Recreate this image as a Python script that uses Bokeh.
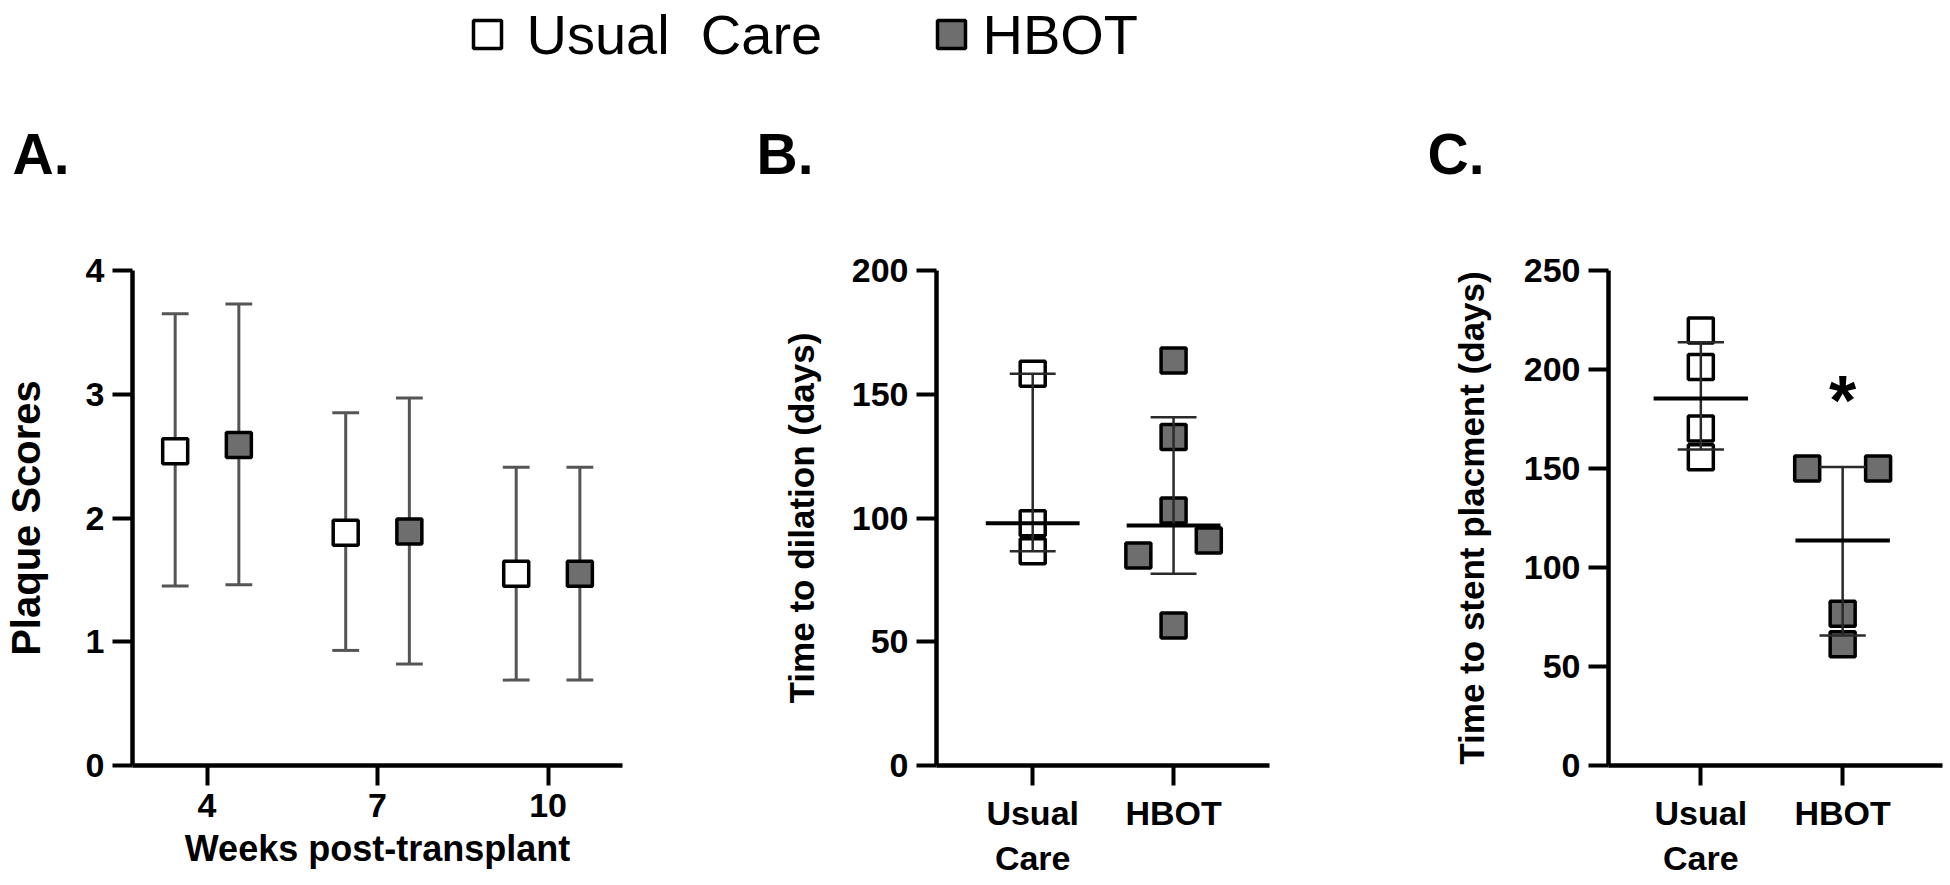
from bokeh.plotting import figure
from bokeh.layouts import row, column
from bokeh.models import Range1d, FixedTicker, ColumnDataSource
from bokeh.core.properties import value
from bokeh.embed import file_html
from bokeh.resources import INLINE

FONT = "Liberation Sans"

# ---------------- data ----------------
groups = ["Usual \u00a0Care", "HBOT"]
group_fill = ["white", "#6e6e6e"]
panel_titles = ["A.", "B.", "C."]

# Panel A: plaque scores (mean with error bars) per week
weeks = [4, 7, 10]
a_uc_mean = [2.54, 1.88, 1.55]
a_uc_upper = [3.65, 2.85, 2.41]
a_uc_lower = [1.45, 0.93, 0.69]
a_hbot_mean = [2.59, 1.89, 1.55]
a_hbot_upper = [3.73, 2.97, 2.41]
a_hbot_lower = [1.46, 0.82, 0.69]

# Panel B: time to dilation (days), individual points, median + IQR
b_tick_labels = ["Usual\nCare", "HBOT"]
b_uc = [158.3, 97.9, 86.6]
b_uc_jitter = [0, 0, 0]
b_hbot = [163.6, 132.7, 103.0, 84.8, 90.9, 56.6]
b_hbot_jitter = [0, 0, 0, -1, 1, 0]
b_median = [97.9, 97.0]
b_q1 = [86.6, 77.5]
b_q3 = [158.3, 140.7]

# Panel C: time to stent placement (days)
c_uc = [219.7, 201.2, 170.2, 155.7]
c_uc_jitter = [0, 0, 0, 0]
c_hbot = [150.0, 150.0, 76.7, 61.3]
c_hbot_jitter = [-1, 1, 0, 0]
c_median = [185.4, 113.6]
c_q1 = [159.6, 65.6]
c_q3 = [213.8, 150.7]
c_sig = ["", "*"]
c_sig_y = [None, 184]

# ---------------- helpers ----------------
MS = 25      # marker size
MLW = 3.5    # marker outline width
PANEL_H = 685


def style(p):
    p.xgrid.visible = False
    p.ygrid.visible = False
    p.outline_line_color = None
    p.background_fill_color = "white"
    p.border_fill_color = "white"
    for ax in p.axis:
        ax.axis_line_width = 4.5
        ax.axis_line_color = "black"
        ax.major_tick_line_width = 4
        ax.major_tick_line_color = "black"
        ax.major_tick_out = 20
        ax.major_tick_in = 0
        ax.minor_tick_line_color = None
        ax.major_label_text_font = FONT
        ax.major_label_text_font_style = "bold"
        ax.major_label_text_font_size = "34px"
        ax.major_label_text_color = "black"
        ax.major_label_standoff = 8
        ax.axis_label_text_font = FONT
        ax.axis_label_text_font_style = "bold"
        ax.axis_label_text_color = "black"


def panel(width, xr, yr, left, right):
    p = figure(width=width, height=PANEL_H, x_range=xr, y_range=yr,
               min_border_left=left, min_border_right=right,
               min_border_top=70, min_border_bottom=PANEL_H - 70 - 495,
               toolbar_location=None, output_backend="svg")
    style(p)
    return p


# ---------------- Panel A ----------------
pA = panel(740, Range1d(2.689, 11.31), Range1d(0, 4), 130, 118)
off = 0.56
cap = 0.236
series = [
    (a_uc_mean, a_uc_lower, a_uc_upper, -off, group_fill[0]),
    (a_hbot_mean, a_hbot_lower, a_hbot_upper, off, group_fill[1]),
]
for mean, lo, hi, dx, fill in series:
    xs = [w + dx for w in weeks]
    src = ColumnDataSource(dict(x=xs, m=mean, lo=lo, hi=hi,
                                xl=[x - cap for x in xs], xr=[x + cap for x in xs]))
    pA.segment(x0="x", y0="lo", x1="x", y1="hi", source=src, line_color="#555555", line_width=3)
    pA.segment(x0="xl", y0="hi", x1="xr", y1="hi", source=src, line_color="#555555", line_width=3)
    pA.segment(x0="xl", y0="lo", x1="xr", y1="lo", source=src, line_color="#555555", line_width=3)
    pA.scatter(x="x", y="m", source=src, marker="square", size=MS,
               fill_color=fill, line_color="black", line_width=MLW)
pA.xaxis.ticker = FixedTicker(ticks=weeks)
pA.yaxis.ticker = FixedTicker(ticks=[0, 1, 2, 3, 4])
pA.xaxis.axis_label = "Weeks post-transplant"
pA.xaxis.axis_label_text_font_size = "36px"
pA.xaxis.axis_label_standoff = 8
pA.yaxis.axis_label = "Plaque Scores"
pA.yaxis.axis_label_text_font_size = "40px"
pA.yaxis.axis_label_standoff = 35


# ---------------- Panels B and C ----------------
def scatter_panel(p, uc, uc_j, hb, hb_j, med, q1, q3):
    jit = 0.25
    half_med = 0.333
    half_cap = 0.163
    for gi, (vals, jj) in enumerate([(uc, uc_j), (hb, hb_j)]):
        xc = gi + 1
        src = ColumnDataSource(dict(x=[xc + j * jit for j in jj], y=vals))
        p.scatter(x="x", y="y", source=src, marker="square", size=MS,
                  fill_color=group_fill[gi], line_color="black", line_width=MLW)
    xc = [1, 2]
    s = ColumnDataSource(dict(x=xc, med=med, q1=q1, q3=q3,
                              ml=[x - half_med for x in xc], mr=[x + half_med for x in xc],
                              cl=[x - half_cap for x in xc], cr=[x + half_cap for x in xc]))
    p.segment(x0="x", y0="q1", x1="x", y1="q3", source=s, line_color="#2a2a2a", line_width=2.5)
    p.segment(x0="cl", y0="q1", x1="cr", y1="q1", source=s, line_color="#2a2a2a", line_width=2.5)
    p.segment(x0="cl", y0="q3", x1="cr", y1="q3", source=s, line_color="#2a2a2a", line_width=2.5)
    p.segment(x0="ml", y0="med", x1="mr", y1="med", source=s, line_color="black", line_width=4)
    p.xaxis.ticker = FixedTicker(ticks=[1, 2])
    p.xaxis.major_label_overrides = {1: b_tick_labels[0], 2: b_tick_labels[1]}


pB = panel(660, Range1d(0.317, 2.681), Range1d(0, 200), 196, 131)
scatter_panel(pB, b_uc, b_uc_jitter, b_hbot, b_hbot_jitter, b_median, b_q1, b_q3)
pB.yaxis.ticker = FixedTicker(ticks=[0, 50, 100, 150, 200])
pB.yaxis.axis_label = "Time to dilation (days)"
pB.yaxis.axis_label_text_font_size = "35px"
pB.yaxis.axis_label_standoff = 28

pC = panel(550, Range1d(0.349, 2.704), Range1d(0, 250), 208, 8)
scatter_panel(pC, c_uc, c_uc_jitter, c_hbot, c_hbot_jitter, c_median, c_q1, c_q3)
pC.yaxis.ticker = FixedTicker(ticks=[0, 50, 100, 150, 200, 250])
pC.yaxis.axis_label = "Time to stent placment (days)"
pC.yaxis.axis_label_text_font_size = "35px"
pC.yaxis.axis_label_standoff = 30
sig_src = ColumnDataSource(dict(x=[i + 1 for i, t in enumerate(c_sig) if t],
                                y=[c_sig_y[i] for i, t in enumerate(c_sig) if t],
                                t=[t for t in c_sig if t]))
pC.text(x="x", y="y", text="t", source=sig_src, text_font=value(FONT),
        text_font_style="bold", text_font_size="70px", text_align="center",
        text_baseline="middle", text_color="black")

# ---------------- header: legend + panel letters (page pixel coords) ----------------
HDR_H = 200
hdr = figure(width=1950, height=HDR_H, x_range=Range1d(0, 1950), y_range=Range1d(HDR_H, 0),
             min_border=0, toolbar_location=None, output_backend="svg")
hdr.axis.visible = False
hdr.xgrid.visible = False
hdr.ygrid.visible = False
hdr.outline_line_color = None

leg_box_x = [487, 951]
leg_txt_x = [526, 982]
leg_src = ColumnDataSource(dict(bx=leg_box_x, tx=leg_txt_x, y=[34, 34],
                                fill=group_fill, label=groups))
hdr.scatter(x="bx", y="y", source=leg_src, marker="square", size=28,
            fill_color="fill", line_color="black", line_width=3.5)
hdr.text(x="tx", y="y", text="label", source=leg_src, text_font=value(FONT),
         text_font_size="56px", text_baseline="middle", text_align="left", text_color="black")

ttl_src = ColumnDataSource(dict(x=[12, 756, 1427], y=[153, 153, 153], t=panel_titles))
hdr.text(x="x", y="y", text="t", source=ttl_src, text_font=value(FONT),
         text_font_style="bold", text_font_size="57px", text_baseline="alphabetic",
         text_align="left", text_color="black")

layout = column(hdr, row(pA, pB, pC))
open("out.html", "w").write(file_html(layout, INLINE))
